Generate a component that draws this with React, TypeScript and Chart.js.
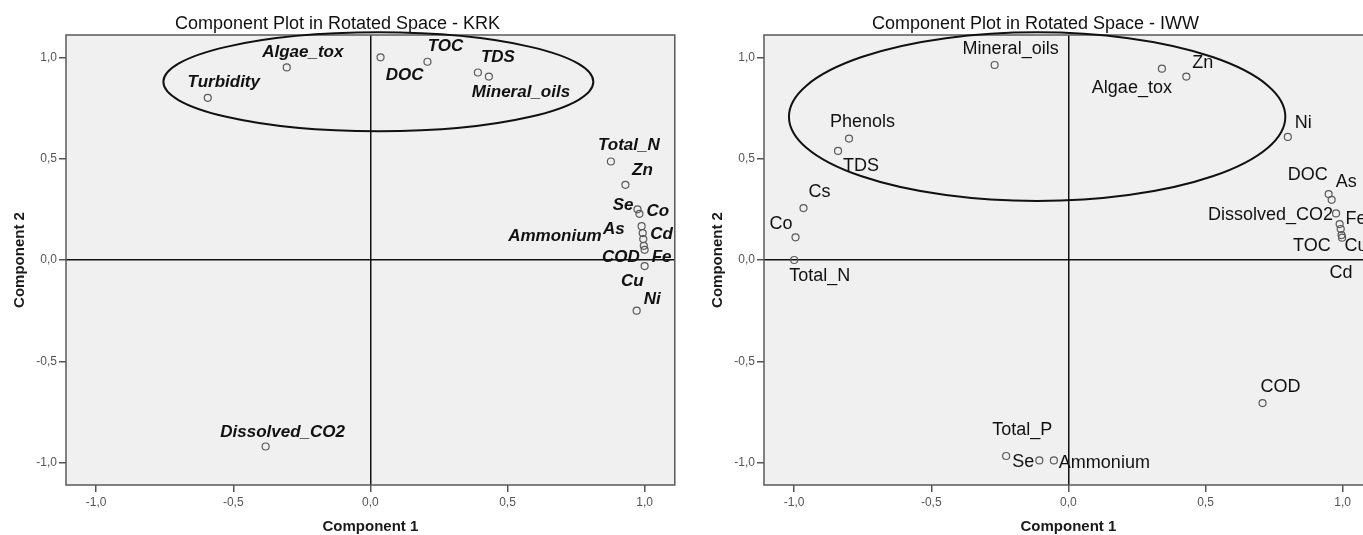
import React, { useEffect, useRef } from "react";
import { Chart, registerables } from "chart.js";
Chart.register(...registerables);

const FONT = "'Liberation Sans', Arial, sans-serif";

// ---- KRK data ----
const krkTitle = "Component Plot in Rotated Space - KRK";
const krkNames = ["Turbidity", "Algae_tox", "DOC", "TOC", "TDS", "Mineral_oils", "Total_N", "Zn", "Se", "Co", "As", "Ammonium", "Cd", "COD", "Fe", "Cu", "Ni", "Dissolved_CO2"];
const krkComp1 = [-0.593, -0.305, 0.037, 0.208, 0.392, 0.432, 0.877, 0.93, 0.974, 0.981, 0.989, 0.993, 0.995, 0.997, 1.0, 1.0, 0.971, -0.382];
const krkComp2 = [0.8, 0.95, 1.0, 0.978, 0.925, 0.905, 0.486, 0.371, 0.25, 0.228, 0.167, 0.133, 0.103, 0.07, 0.05, -0.03, -0.25, -0.92];
// label placement: [dx, dy, align]
const krkLabelPlacement: [number, number, CanvasTextAlign][] = [
  [16, -16, "center"], [16, -15, "center"], [24, 18, "center"], [18, -15, "center"], [20, -15, "center"],
  [-17, 16, "left"], [18, -16, "center"], [17, -14, "center"], [-4, -4, "right"], [7, -2, "left"],
  [-17, 3, "right"], [-41, 3, "right"], [7, -5, "left"], [-4, 12, "right"], [7, 7, "left"],
  [-1, 15, "right"], [7, -11, "left"], [17, -14, "center"],
];
const krkEllipse = { cx: 0.029, cy: 0.879, rx: 0.784, ry: 0.244 };

// ---- IWW data ----
const iwwTitle = "Component Plot in Rotated Space - IWW";
const iwwNames = ["Mineral_oils", "Algae_tox", "Zn", "Ni", "Phenols", "TDS", "Cs", "Co", "Total_N", "DOC", "As", "Dissolved_CO2", "Fe", "TOC", "Cu", "Cd", "COD", "Total_P", "Se", "Ammonium"];
const iwwComp1 = [-0.269, 0.341, 0.43, 0.8, -0.8, -0.84, -0.966, -0.995, -1.0, 0.949, 0.96, 0.976, 0.989, 0.993, 0.996, 0.998, 0.708, -0.227, -0.106, -0.053];
const iwwComp2 = [0.962, 0.944, 0.905, 0.607, 0.599, 0.538, 0.256, 0.112, 0.0, 0.325, 0.297, 0.23, 0.177, 0.153, 0.123, 0.11, -0.706, -0.967, -0.989, -0.989];
const iwwLabelPlacement: [number, number, CanvasTextAlign][] = [
  [16, -16, "center"], [10, 19, "right"], [6, -14, "left"], [7, -14, "left"], [-19, -17, "left"],
  [5, 15, "left"], [5, -16, "left"], [-3, -13, "right"], [-5, 16, "left"], [-1, -19, "right"],
  [4, -18, "left"], [-3, 2, "right"], [6, -5, "left"], [-10, 17, "right"], [3, 11, "left"],
  [-1, 35, "center"], [-2, -16, "left"], [-14, -26, "left"], [-5, 2, "right"], [5, 3, "left"],
];
const iwwEllipse = { cx: -0.114, cy: 0.707, rx: 0.905, ry: 0.416 };

const tickValues = [-1, -0.5, 0, 0.5, 1];
const axisMin = -1.11;
const axisMax = 1.11;

const fmt = (v: number) => Number(v).toFixed(1).replace(".", ",");

function makeConfig(
  title: string,
  names: string[],
  xs: number[],
  ys: number[],
  placement: [number, number, CanvasTextAlign][],
  ellipse: { cx: number; cy: number; rx: number; ry: number },
  labelFont: string
): any {
  const bgPlugin = {
    id: "plotBg",
    beforeDraw(chart: any) {
      const { ctx, chartArea: a } = chart;
      ctx.save();
      ctx.fillStyle = "#f0f0f0";
      ctx.fillRect(a.left, a.top, a.right - a.left, a.bottom - a.top);
      ctx.restore();
    },
  };
  const overlayPlugin = {
    id: "overlay",
    afterDatasetsDraw(chart: any) {
      const { ctx, chartArea: a, scales } = chart;
      const xS = scales.x;
      const yS = scales.y;
      ctx.save();
      // frame
      ctx.strokeStyle = "#5a5a5a";
      ctx.lineWidth = 1.5;
      ctx.strokeRect(a.left, a.top, a.right - a.left, a.bottom - a.top);
      // ellipse
      const cx = xS.getPixelForValue(ellipse.cx);
      const cy = yS.getPixelForValue(ellipse.cy);
      const rx = Math.abs(xS.getPixelForValue(ellipse.cx + ellipse.rx) - cx);
      const ry = Math.abs(yS.getPixelForValue(ellipse.cy + ellipse.ry) - cy);
      ctx.beginPath();
      ctx.ellipse(cx, cy, rx, ry, 0, 0, Math.PI * 2);
      ctx.strokeStyle = "#111";
      ctx.lineWidth = 2;
      ctx.stroke();
      // labels
      const meta = chart.getDatasetMeta(0);
      ctx.font = labelFont;
      ctx.fillStyle = "#111";
      ctx.textBaseline = "middle";
      meta.data.forEach((el: any, i: number) => {
        const [dx, dy, align] = placement[i];
        ctx.textAlign = align;
        ctx.fillText(names[i], el.x + dx, el.y + dy);
      });
      ctx.restore();
    },
  };

  const gridCfg = {
    color: (c: any) => (c.tick && c.tick.value === 0 ? "#111" : "rgba(0,0,0,0)"),
    lineWidth: 1.5,
    tickColor: "#555",
    tickLength: 7,
    drawTicks: true,
  };

  return {
    type: "scatter",
    data: {
      datasets: [
        {
          data: xs.map((x, i) => ({ x, y: ys[i] })),
          pointRadius: 3.5,
          pointBorderWidth: 1.2,
          pointBorderColor: "#5a5a5a",
          pointBackgroundColor: "rgba(0,0,0,0)",
          showLine: false,
        },
      ],
    },
    options: {
      responsive: false,
      animation: false,
      layout: { padding: { left: 0, right: 5, top: 0, bottom: 0 } },
      plugins: {
        legend: { display: false },
        tooltip: { enabled: false },
        title: {
          display: true,
          text: title,
          color: "#111",
          font: { family: FONT, size: 18, weight: "normal", lineHeight: 1 },
          padding: { top: 15, bottom: 2 },
        },
      },
      scales: {
        x: {
          type: "linear",
          min: axisMin,
          max: axisMax,
          afterBuildTicks: (s: any) => {
            s.ticks = tickValues.map((v) => ({ value: v }));
          },
          afterFit: (s: any) => {
            s.height = 50;
          },
          grid: gridCfg,
          border: { display: false },
          ticks: {
            callback: (v: any) => fmt(v),
            color: "#555",
            font: { family: FONT, size: 12 },
            padding: 3,
            maxRotation: 0,
            autoSkip: false,
          },
          title: {
            display: true,
            text: "Component 1",
            color: "#1a1a1a",
            font: { family: FONT, size: 15, weight: "bold", lineHeight: 1 },
            padding: { top: 0, bottom: 1 },
          },
        },
        y: {
          type: "linear",
          min: axisMin,
          max: axisMax,
          afterBuildTicks: (s: any) => {
            s.ticks = tickValues.map((v) => ({ value: v }));
          },
          afterFit: (s: any) => {
            s.width = 66;
          },
          grid: gridCfg,
          border: { display: false },
          ticks: {
            callback: (v: any) => fmt(v),
            color: "#555",
            font: { family: FONT, size: 12 },
            padding: 2,
            autoSkip: false,
          },
          title: {
            display: true,
            text: "Component 2",
            color: "#1a1a1a",
            font: { family: FONT, size: 15, weight: "bold", lineHeight: 1.2 },
            padding: { top: 11, bottom: 0 },
          },
        },
      },
    },
    plugins: [bgPlugin, overlayPlugin],
  };
}

function PlotCanvas({ config, left }: { config: any; left: number }) {
  const ref = useRef<HTMLCanvasElement | null>(null);
  useEffect(() => {
    if (!ref.current) return;
    const chart = new Chart(ref.current, config);
    return () => chart.destroy();
  }, [config]);
  return (
    <canvas
      ref={ref}
      width={680}
      height={535}
      style={{ position: "absolute", left, top: 0, width: 680, height: 535, display: "block" }}
    />
  );
}

const krkConfig = makeConfig(krkTitle, krkNames, krkComp1, krkComp2, krkLabelPlacement, krkEllipse, `italic bold 17px ${FONT}`);
const iwwConfig = makeConfig(iwwTitle, iwwNames, iwwComp1, iwwComp2, iwwLabelPlacement, iwwEllipse, `18px ${FONT}`);

export default function App() {
  return (
    <div
      style={{
        position: "absolute",
        left: 0,
        top: 0,
        width: 1363,
        height: 535,
        overflow: "hidden",
        background: "#fff",
      }}
    >
      <PlotCanvas config={krkConfig} left={0} />
      <PlotCanvas config={iwwConfig} left={698} />
    </div>
  );
}
